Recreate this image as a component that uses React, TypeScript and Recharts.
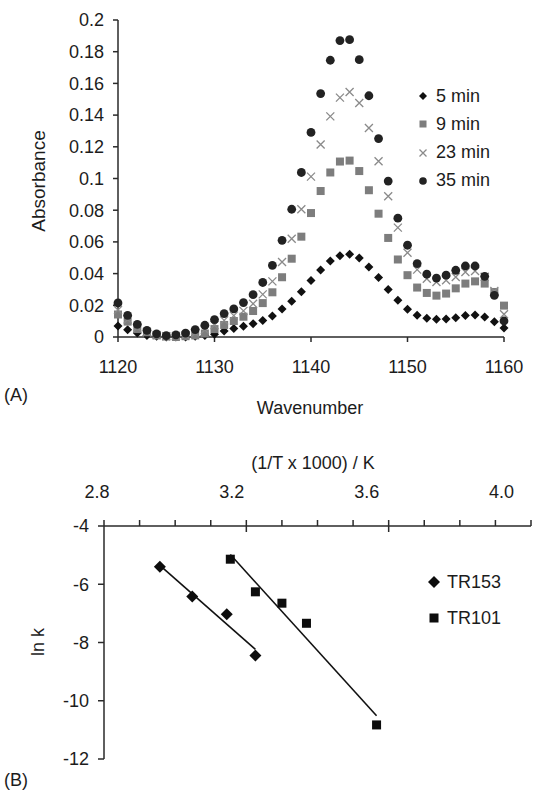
import React from 'react';
import { ScatterChart, Scatter, XAxis, YAxis } from 'recharts';

const wavenumbers = [1120, 1121, 1122, 1123, 1124, 1125, 1126, 1127, 1128, 1129, 1130, 1131, 1132, 1133, 1134, 1135, 1136, 1137, 1138, 1139, 1140, 1141, 1142, 1143, 1144, 1145, 1146, 1147, 1148, 1149, 1150, 1151, 1152, 1153, 1154, 1155, 1156, 1157, 1158, 1159, 1160];

const abs5 = [0.007, 0.0045, 0.0025, 0.001, 0.0005, 0, 0, 0, 0.0005, 0.001, 0.0018, 0.0038, 0.0054, 0.0068, 0.0084, 0.0104, 0.0133, 0.0177, 0.0225, 0.0286, 0.0356, 0.0423, 0.048, 0.0513, 0.0522, 0.0499, 0.0442, 0.0375, 0.03, 0.0232, 0.0175, 0.0137, 0.0118, 0.0112, 0.0114, 0.0122, 0.0135, 0.0139, 0.0126, 0.0097, 0.0057];
const abs9 = [0.0142, 0.0097, 0.005, 0.003, 0.001, 0.0003, 0, 0.0005, 0.001, 0.0022, 0.005, 0.0076, 0.0101, 0.0128, 0.0164, 0.0214, 0.0282, 0.0377, 0.0494, 0.0633, 0.0782, 0.0921, 0.1038, 0.1107, 0.1113, 0.1047, 0.0926, 0.0778, 0.0625, 0.0489, 0.039, 0.0312, 0.0278, 0.0261, 0.0274, 0.0307, 0.0337, 0.0351, 0.0337, 0.0284, 0.0198];
const abs23 = [0.017, 0.011, 0.006, 0.003, 0.0012, 0.0005, 0.0006, 0.0012, 0.0025, 0.0045, 0.0075, 0.0105, 0.0135, 0.0165, 0.021, 0.0269, 0.0351, 0.0473, 0.062, 0.0806, 0.1012, 0.1214, 0.1392, 0.151, 0.1546, 0.1476, 0.1319, 0.1109, 0.0888, 0.069, 0.0532, 0.0425, 0.0368, 0.0347, 0.0358, 0.0379, 0.041, 0.0416, 0.038, 0.029, 0.0143];
const abs35 = [0.0215, 0.0137, 0.008, 0.0042, 0.002, 0.0009, 0.0013, 0.0025, 0.0047, 0.0074, 0.011, 0.0148, 0.0177, 0.0217, 0.0267, 0.0344, 0.0452, 0.061, 0.0806, 0.1038, 0.1291, 0.1536, 0.1746, 0.187, 0.1876, 0.175, 0.1522, 0.1252, 0.0984, 0.075, 0.0579, 0.0463, 0.0396, 0.0372, 0.039, 0.0421, 0.0448, 0.0448, 0.0383, 0.0263, 0.0101];

const absTicks = [0, 0.02, 0.04, 0.06, 0.08, 0.1, 0.12, 0.14, 0.16, 0.18, 0.2];
const waveTicks = [1120, 1130, 1140, 1150, 1160];
const seriesNames = ['5 min', '9 min', '23 min', '35 min'];

const invT_TR153 = [2.957, 3.048, 3.145, 3.2255];
const lnk_TR153 = [-5.4, -6.42, -7.03, -8.45];
const invT_TR101 = [3.155, 3.2255, 3.3, 3.369, 3.566];
const lnk_TR101 = [-5.14, -6.26, -6.65, -7.34, -10.83];

const invTTicks = [2.8, 2.9, 3.0, 3.1, 3.2, 3.3, 3.4, 3.5, 3.6, 3.7, 3.8, 3.9, 4.0];
const invTMajor = [2.8, 3.2, 3.6, 4.0];
const lnkTicks = [-12, -10, -8, -6, -4];

const FONT = '"Liberation Sans", Arial, Helvetica, sans-serif';
const TXT = '#1c1c1c';
const AX = '#2a2a2a';
const FS = 18;

const pairs = (xs: number[], ys: number[]) => xs.map((x, i) => ({ x, y: ys[i] }));

const fitLine = (xs: number[], ys: number[]) => {
  const n = xs.length;
  const mx = xs.reduce((a, b) => a + b, 0) / n;
  const my = ys.reduce((a, b) => a + b, 0) / n;
  let sxy = 0, sxx = 0;
  for (let i = 0; i < n; i++) { sxy += (xs[i] - mx) * (ys[i] - my); sxx += (xs[i] - mx) ** 2; }
  const b = sxy / sxx; const a = my - b * mx;
  const x0 = Math.min(...xs); const x1 = Math.max(...xs);
  return [{ x: x0, y: a + b * x0 }, { x: x1, y: a + b * x1 }];
};

const Diamond = ({ cx, cy, r = 4.5, fill = '#111' }: any) => (
  <path d={`M${cx},${cy - r}L${cx + r},${cy}L${cx},${cy + r}L${cx - r},${cy}Z`} fill={fill} />
);
const Square = ({ cx, cy, s = 8, fill = '#7d7d7d' }: any) => (
  <rect x={cx - s / 2} y={cy - s / 2} width={s} height={s} fill={fill} />
);
const XMark = ({ cx, cy, r = 4, stroke = '#8a8a8a' }: any) => (
  <path d={`M${cx - r},${cy - r}L${cx + r},${cy + r}M${cx - r},${cy + r}L${cx + r},${cy - r}`} stroke={stroke} strokeWidth={1.3} fill="none" />
);
const Dot = ({ cx, cy, r = 4.4, fill = '#222' }: any) => <circle cx={cx} cy={cy} r={r} fill={fill} />;

const shapes = [
  (p: any) => <Diamond cx={p.cx} cy={p.cy} />,
  (p: any) => <Square cx={p.cx} cy={p.cy} />,
  (p: any) => <XMark cx={p.cx} cy={p.cy} />,
  (p: any) => <Dot cx={p.cx} cy={p.cy} />,
];
const legendIcons = [
  <Diamond cx={7} cy={7} r={4} />,
  <Square cx={7} cy={7} s={7} />,
  <XMark cx={7} cy={7} r={3.5} />,
  <Dot cx={7} cy={7} r={3.8} />,
];

const tickStyle = { fontSize: FS, fill: TXT, fontFamily: FONT };

const TopTick = (props: any) => {
  const { x, y, payload } = props;
  const v = payload.value;
  const k = invTMajor.findIndex((m) => Math.abs(m - v) < 1e-6);
  const isMajor = k >= 0;
  const axisY = 86;
  return (
    <g>
      {isMajor && k > 0 && k < 3 && <line x1={x} x2={x} y1={axisY} y2={axisY + 6} stroke={AX} strokeWidth={1.5} />}
      {isMajor && (
        <text x={x - 7 - 7.5 * k} y={y} textAnchor="middle" style={tickStyle} fill={TXT}>{v.toFixed(1)}</text>
      )}
    </g>
  );
};

export default function App() {
  const absSeries = [abs5, abs9, abs23, abs35];
  const fit153 = fitLine(invT_TR153, lnk_TR153);
  const fit101 = fitLine(invT_TR101, lnk_TR101);
  return (
    <div style={{ position: 'absolute', left: 0, top: 0, width: 549, height: 794, background: '#fff', fontFamily: FONT, color: TXT }}>
      <div style={{ position: 'absolute', left: 0, top: 0 }}>
        <ScatterChart width={549} height={420} margin={{ top: 20, right: 45, left: 0, bottom: 53 }}>
          <XAxis type="number" dataKey="x" domain={[1120, 1160]} ticks={waveTicks} interval={0}
            tick={tickStyle} tickSize={5} tickMargin={18} stroke={AX} strokeWidth={1.5} height={30} />
          <YAxis type="number" dataKey="y" domain={[0, 0.2]} ticks={absTicks} interval={0} width={118}
            tick={tickStyle} tickSize={5} tickMargin={9} stroke={AX} strokeWidth={1.5} />
          {absSeries.map((s, i) => (
            <Scatter key={i} name={seriesNames[i]} data={pairs(wavenumbers, s)} shape={shapes[i]} isAnimationActive={false} />
          ))}
        </ScatterChart>
      </div>
      {seriesNames.map((n, i) => (
        <div key={n} style={{ position: 'absolute', left: 416, top: 86 + i * 28.3, height: 20, display: 'flex', alignItems: 'center', fontSize: FS }}>
          <svg width={14} height={14} style={{ marginRight: 6 }}>{legendIcons[i]}</svg>
          <span>{n}</span>
        </div>
      ))}
      <div style={{ position: 'absolute', left: 39, top: 181, transform: 'translate(-50%,-50%) rotate(-90deg)', fontSize: FS + 1, whiteSpace: 'nowrap' }}>Absorbance</div>
      <div style={{ position: 'absolute', left: 310, top: 408, transform: 'translate(-50%,-50%)', fontSize: FS }}>Wavenumber</div>
      <div style={{ position: 'absolute', left: 4, top: 395, transform: 'translate(0,-50%)', fontSize: FS }}>(A)</div>

      <div style={{ position: 'absolute', left: 0, top: 440 }}>
        <ScatterChart width={549} height={354} margin={{ top: 20, right: 18, left: 0, bottom: 35 }}>
          <XAxis type="number" dataKey="x" orientation="top" domain={[2.8, 4.0]} ticks={invTTicks} interval={0}
            tick={<TopTick />} tickSize={6} tickMargin={22} stroke={AX} strokeWidth={1.5} height={66} />
          <YAxis type="number" dataKey="y" domain={[-12, -4]} ticks={lnkTicks} interval={0} width={104}
            tick={tickStyle} tickSize={6} tickMargin={9} stroke={AX} strokeWidth={1.5} />
          <Scatter name="TR153 fit" data={fit153} line={{ stroke: '#111', strokeWidth: 1.6 }} shape={() => <g />} isAnimationActive={false} />
          <Scatter name="TR101 fit" data={fit101} line={{ stroke: '#111', strokeWidth: 1.6 }} shape={() => <g />} isAnimationActive={false} />
          <Scatter name="TR153" data={pairs(invT_TR153, lnk_TR153)} shape={(p: any) => <Diamond cx={p.cx} cy={p.cy} r={6} fill="#0d0d0d" />} isAnimationActive={false} />
          <Scatter name="TR101" data={pairs(invT_TR101, lnk_TR101)} shape={(p: any) => <Square cx={p.cx} cy={p.cy} s={9} fill="#0d0d0d" />} isAnimationActive={false} />
        </ScatterChart>
      </div>
      <div style={{ position: 'absolute', left: 313, top: 463, transform: 'translate(-50%,-50%)', fontSize: FS, whiteSpace: 'nowrap' }}>(1/T x 1000) / K</div>
      <div style={{ position: 'absolute', left: 38, top: 642, transform: 'translate(-50%,-50%) rotate(-90deg)', fontSize: FS, whiteSpace: 'nowrap' }}>ln k</div>
      <div style={{ position: 'absolute', left: 4, top: 780, transform: 'translate(0,-50%)', fontSize: FS }}>(B)</div>
      <div style={{ position: 'absolute', left: 426, top: 572, height: 20, display: 'flex', alignItems: 'center', fontSize: FS }}>
        <svg width={16} height={16} style={{ marginRight: 5 }}><Diamond cx={8} cy={8} r={6} fill="#0d0d0d" /></svg>
        <span>TR153</span>
      </div>
      <div style={{ position: 'absolute', left: 426, top: 608, height: 20, display: 'flex', alignItems: 'center', fontSize: FS }}>
        <svg width={16} height={16} style={{ marginRight: 5 }}><Square cx={8} cy={8} s={9} fill="#0d0d0d" /></svg>
        <span>TR101</span>
      </div>
    </div>
  );
}
